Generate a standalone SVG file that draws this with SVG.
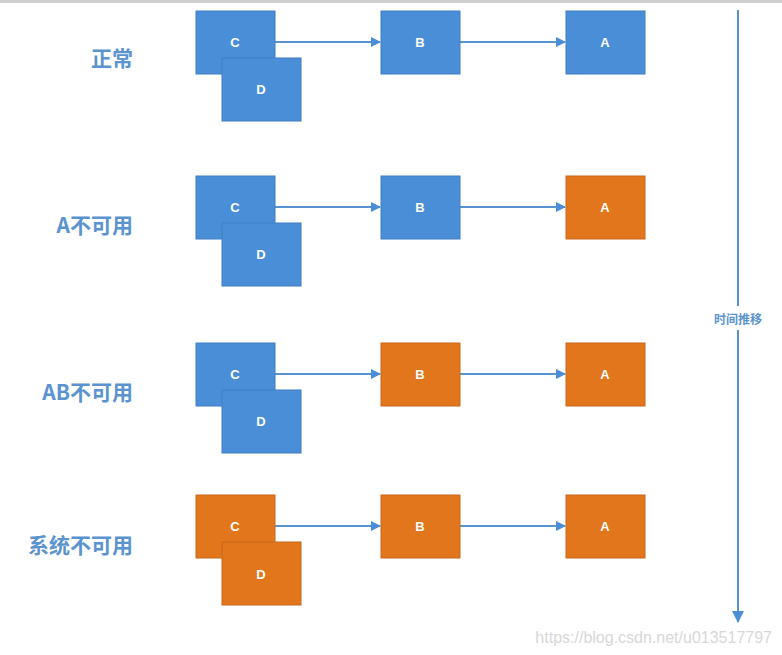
<svg xmlns="http://www.w3.org/2000/svg" width="782" height="655" viewBox="0 0 782 655">
<style>
.blue{fill:#4A8ED8;stroke:#3F7FC4;stroke-width:1}
.orange{fill:#E1761C;stroke:#C9661A;stroke-width:1}
.nt{font-family:"Liberation Sans",Arial,sans-serif;font-size:13px;font-weight:bold;fill:#ffffff;text-anchor:middle;dominant-baseline:central}
.lbl{font-family:"Noto Sans CJK SC","Liberation Sans",sans-serif;font-size:21px;font-weight:bold;fill:#5B93CF;text-anchor:end;dominant-baseline:central}
.edge{stroke:#5593D3;stroke-width:2;fill:none}
</style>
<defs>
<marker id="ah" markerWidth="10" markerHeight="10" refX="9" refY="5" orient="auto" markerUnits="userSpaceOnUse">
<path d="M0,0 L10,5 L0,10 z" fill="#4A8ED8"/>
</marker>
<marker id="ah2" markerWidth="12" markerHeight="12" refX="11" refY="6" orient="auto" markerUnits="userSpaceOnUse">
<path d="M0,0 L12,6 L0,12 z" fill="#4A8ED8"/>
</marker>
</defs>
<rect width="782" height="655" fill="#ffffff"/>
<line x1="0" y1="1.5" x2="782" y2="1.5" stroke="#cfcfcf" stroke-width="3"/>

<g id="connectors">
<line class="edge" x1="275" y1="42" x2="380" y2="42" marker-end="url(#ah)"/>
<line class="edge" x1="460" y1="42" x2="565" y2="42" marker-end="url(#ah)"/>
<line class="edge" x1="275" y1="207" x2="380" y2="207" marker-end="url(#ah)"/>
<line class="edge" x1="460" y1="207" x2="565" y2="207" marker-end="url(#ah)"/>
<line class="edge" x1="275" y1="374" x2="380" y2="374" marker-end="url(#ah)"/>
<line class="edge" x1="460" y1="374" x2="565" y2="374" marker-end="url(#ah)"/>
<line class="edge" x1="275" y1="526" x2="380" y2="526" marker-end="url(#ah)"/>
<line class="edge" x1="460" y1="526" x2="565" y2="526" marker-end="url(#ah)"/>
<line class="edge" x1="738" y1="10" x2="738" y2="622" marker-end="url(#ah2)"/>
</g>

<g id="label-row1"><text class="lbl" x="133" y="57">正常</text></g>
<g id="label-row2"><text class="lbl" x="133" y="224">A不可用</text></g>
<g id="label-row3"><text class="lbl" x="133" y="391">AB不可用</text></g>
<g id="label-row4"><text class="lbl" x="133" y="544">系统不可用</text></g>

<g id="r1-C"><rect class="blue" x="196" y="11" width="79" height="63"/><text class="nt" x="235" y="42">C</text></g>
<g id="r1-D"><rect class="blue" x="222" y="58" width="79" height="63"/><text class="nt" x="261" y="89">D</text></g>
<g id="r1-B"><rect class="blue" x="381" y="11" width="79" height="63"/><text class="nt" x="420" y="42">B</text></g>
<g id="r1-A"><rect class="blue" x="566" y="11" width="79" height="63"/><text class="nt" x="605" y="42">A</text></g>

<g id="r2-C"><rect class="blue" x="196" y="176" width="79" height="63"/><text class="nt" x="235" y="207">C</text></g>
<g id="r2-D"><rect class="blue" x="222" y="223" width="79" height="63"/><text class="nt" x="261" y="254">D</text></g>
<g id="r2-B"><rect class="blue" x="381" y="176" width="79" height="63"/><text class="nt" x="420" y="207">B</text></g>
<g id="r2-A"><rect class="orange" x="566" y="176" width="79" height="63"/><text class="nt" x="605" y="207">A</text></g>

<g id="r3-C"><rect class="blue" x="196" y="343" width="79" height="63"/><text class="nt" x="235" y="374">C</text></g>
<g id="r3-D"><rect class="blue" x="222" y="390" width="79" height="63"/><text class="nt" x="261" y="421">D</text></g>
<g id="r3-B"><rect class="orange" x="381" y="343" width="79" height="63"/><text class="nt" x="420" y="374">B</text></g>
<g id="r3-A"><rect class="orange" x="566" y="343" width="79" height="63"/><text class="nt" x="605" y="374">A</text></g>

<g id="r4-C"><rect class="orange" x="196" y="495" width="79" height="63"/><text class="nt" x="235" y="526">C</text></g>
<g id="r4-D"><rect class="orange" x="222" y="542" width="79" height="63"/><text class="nt" x="261" y="574">D</text></g>
<g id="r4-B"><rect class="orange" x="381" y="495" width="79" height="63"/><text class="nt" x="420" y="526">B</text></g>
<g id="r4-A"><rect class="orange" x="566" y="495" width="79" height="63"/><text class="nt" x="605" y="526">A</text></g>

<g id="time-label">
<rect x="706" y="306" width="64" height="24" fill="#ffffff"/>
<text x="738" y="318" font-family="Noto Sans CJK SC,sans-serif" font-size="12" font-weight="bold" fill="#5B93CF" text-anchor="middle" dominant-baseline="central">时间推移</text>
</g>

<text x="772" y="637" font-family="Liberation Sans,Arial,sans-serif" font-size="16" fill="#d8d8d8" text-anchor="end" dominant-baseline="central">https://blog.csdn.net/u013517797</text>
</svg>
